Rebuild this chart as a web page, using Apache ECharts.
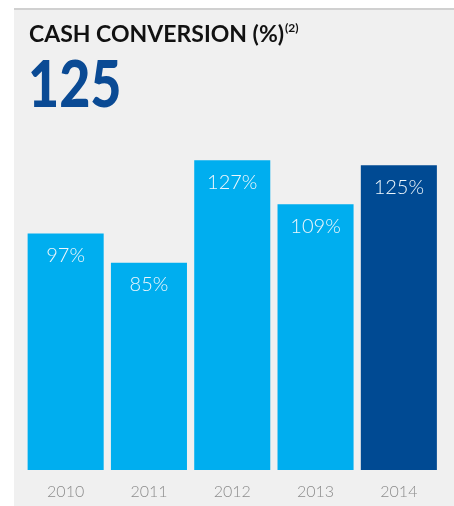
<!DOCTYPE html>
<html>
<head>
<meta charset="utf-8">
<script src="https://cdn.jsdelivr.net/npm/echarts@6/dist/echarts.min.js"></script>
<style>
  html, body { margin: 0; padding: 0; background: #ffffff; }
  #chart { width: 454px; height: 506px; }
</style>
</head>
<body>
<div id="chart"></div>
<script>
// Cash conversion by year (%)
const years = ['2010', '2011', '2012', '2013', '2014'];
const cashConversion = [97, 85, 127, 109, 125];
const headlineValue = '125';
const titleText = 'CASH CONVERSION (%)';
const footnoteMark = '(2)';

const lightBlue = '#00aeef';
const darkBlue = '#004a93';

const chart = echarts.init(document.getElementById('chart'), null, { renderer: 'canvas' });

const barData = cashConversion.map((v, i) => ({
  value: v,
  itemStyle: { color: i === cashConversion.length - 1 ? darkBlue : lightBlue }
}));

chart.setOption({
  backgroundColor: '#ffffff',
  animation: false,
  graphic: [
    // panel background with thin top rule
    { type: 'rect', left: 14, top: 9, shape: { width: 440, height: 497 }, style: { fill: '#f0f0f0' }, z: -10 },
    { type: 'rect', left: 14, top: 8, shape: { width: 440, height: 2 }, style: { fill: '#d0d0d0' }, z: -9 },
    {
      type: 'text', x: 29, y: 22,
      style: {
        text: '{t|' + titleText + '}{s|' + footnoteMark + '}',
        rich: {
          t: { font: 'bold 23px Lato', fill: '#111111', lineHeight: 26 },
          s: { font: 'bold 12px Lato', fill: '#111111', lineHeight: 26, verticalAlign: 'top', padding: [0, 0, 10, 1] }
        }
      }
    },
    { type: 'text', x: 28, y: 54, scaleX: 0.84, style: { text: headlineValue, font: '900 64px Lato', fill: '#0a4a94' } }
  ],
  grid: { left: 24, right: 13.5, top: 153, bottom: 36 },
  xAxis: {
    type: 'category',
    data: years,
    axisLine: { show: false },
    axisTick: { show: false },
    axisLabel: { color: '#8c8c8c', fontSize: 16, fontFamily: 'Lato', fontWeight: 300, margin: 14 }
  },
  yAxis: {
    type: 'value',
    min: 0,
    max: 130,
    show: false,
    splitLine: { show: false }
  },
  series: [{
    type: 'bar',
    data: barData,
    barCategoryGap: '8.7%',
    label: {
      show: true,
      position: 'insideTop',
      distance: 12,
      formatter: '{c}%',
      color: '#eef7fc',
      fontSize: 20,
      fontFamily: 'Lato',
      fontWeight: 300
    }
  }]
});
</script>
</body>
</html>
